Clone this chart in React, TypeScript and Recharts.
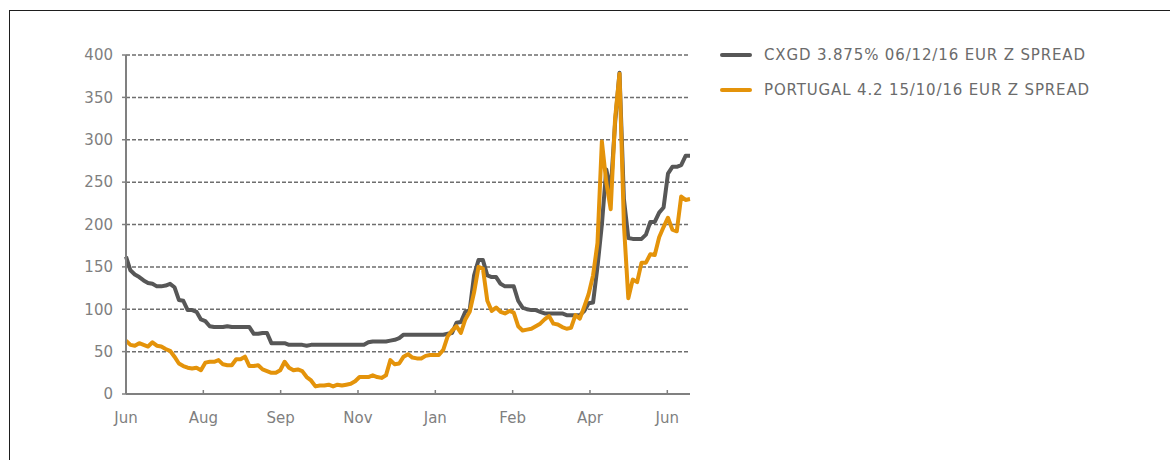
import { LineChart, Line, XAxis, YAxis, CartesianGrid, Legend } from "recharts";

// axis labels
const monthLabels = ["Jun", "Aug", "Sep", "Nov", "Jan", "Feb", "Apr", "Jun"];
const monthTicks = [0, 17.55, 35.1, 52.65, 70.2, 87.75, 105.3, 122.85];
const spreadTicks = [0, 50, 100, 150, 200, 250, 300, 350, 400];

const seriesNames = ["CXGD 3.875% 06/12/16 EUR Z SPREAD", "PORTUGAL 4.2 15/10/16 EUR Z SPREAD"];
const seriesColors = ["#575757", "#e4930a"];

// z-spread (bp), one reading every ~3.5 days
const cxgdSpread = [
  162, 146, 141, 138, 134, 131, 130, 127, 127, 128,
  130, 126, 111, 110, 99, 99, 97, 88, 86, 80,
  79, 79, 79, 80, 79, 79, 79, 79, 79, 71,
  71, 72, 72, 60, 60, 60, 60, 58, 58, 58,
  58, 57, 58, 58, 58, 58, 58, 58, 58, 58,
  58, 58, 58, 58, 58, 61, 62, 62, 62, 62,
  63, 64, 66, 70, 70, 70, 70, 70, 70, 70,
  70, 70, 70, 71, 72, 84, 85, 97, 99, 140,
  158, 158, 140, 138, 138, 130, 127, 127, 127, 110,
  102, 100, 99, 99, 97, 95, 95, 95, 95, 95,
  93, 93, 93, 93, 98, 107, 108, 150, 200, 265,
  240, 320, 379, 230, 184, 183, 183, 183, 188, 203,
  203, 214, 220, 260, 268, 268, 270, 281, 281,
];

const portugalSpread = [
  63, 58, 57, 60, 58, 56, 61, 57, 56, 53,
  51, 44, 36, 33, 31, 30, 31, 28, 37, 38,
  38, 40, 35, 34, 34, 41, 41, 44, 33, 33,
  34, 29, 27, 25, 25, 28, 38, 31, 28, 29,
  27, 20, 16, 9, 10, 10, 11, 9, 11, 10,
  11, 12, 15, 20, 20, 20, 22, 20, 19, 22,
  40, 35, 36, 44, 47, 43, 42, 42, 45, 46,
  46, 46, 52, 68, 75, 80, 72, 88, 97, 120,
  150, 148, 110, 98, 102, 97, 95, 98, 96, 80,
  75, 76, 77, 80, 83, 88, 92, 83, 82, 79,
  77, 78, 93, 89, 103, 118, 140, 178, 298, 250,
  218, 325, 378, 200, 113, 135, 132, 155, 155, 165,
  164, 185, 197, 208, 194, 192, 233, 229, 230,
];

const data = cxgdSpread.map((v, i) => ({ idx: i, cxgd: v, portugal: portugalSpread[i] }));

const fontFamily = "'DejaVu Sans', Verdana, sans-serif";

const renderLegend = () => (
  <div style={{ fontFamily, fontSize: 15, letterSpacing: 0.85, color: "#6b6b6b" }}>
    {seriesNames.map((name, i) => (
      <div key={name} style={{ display: "flex", alignItems: "center", height: 35 }}>
        <div
          style={{
            width: 32,
            height: 4,
            borderRadius: 2,
            background: seriesColors[i],
            marginRight: 12,
          }}
        />
        <span>{name}</span>
      </div>
    ))}
  </div>
);

export default function App() {
  return (
    <div style={{ position: "absolute", left: 0, top: 0, width: 1170, height: 460, background: "#fff" }}>
      <div
        style={{
          position: "absolute",
          left: 9,
          top: 10,
          width: 1161,
          height: 450,
          borderTop: "1px solid #1e1e1e",
          borderLeft: "1px solid #1e1e1e",
        }}
      />
      <div style={{ position: "absolute", left: 0, top: 0 }}>
        <LineChart
          width={1170}
          height={460}
          data={data}
          margin={{ top: 55, right: 480, bottom: 36, left: 60 }}
        >
          <CartesianGrid
            horizontal
            vertical={false}
            stroke="#6e6e6e"
            strokeWidth={1.5}
            strokeDasharray="4 2"
          />
          <XAxis
            dataKey="idx"
            type="number"
            domain={[0, 128]}
            ticks={monthTicks}
            tickFormatter={(_v: number, i: number) => monthLabels[i]}
            interval={0}
            height={30}
            axisLine={{ stroke: "#808080", strokeWidth: 2 }}
            tickLine={{ stroke: "#808080", strokeWidth: 1.5 }}
            tickSize={-4}
            tickMargin={22}
            tick={{ fill: "#7f7f7f", fontSize: 15, fontFamily }}
          />
          <YAxis
            type="number"
            domain={[0, 400]}
            ticks={spreadTicks}
            interval={0}
            width={66}
            axisLine={{ stroke: "#808080", strokeWidth: 2 }}
            tickLine={{ stroke: "#808080", strokeWidth: 1.5 }}
            tickSize={4}
            tickMargin={9}
            tick={{ fill: "#7f7f7f", fontSize: 15, fontFamily }}
          />
          <Legend
            layout="horizontal"
            verticalAlign="middle"
            align="center"
            wrapperStyle={{ left: 720, top: 37, width: 440 }}
            content={renderLegend}
          />
          <Line
            type="linear"
            dataKey="cxgd"
            name={seriesNames[0]}
            stroke={seriesColors[0]}
            strokeWidth={4}
            strokeLinejoin="round"
            dot={false}
            activeDot={false}
            isAnimationActive={false}
          />
          <Line
            type="linear"
            dataKey="portugal"
            name={seriesNames[1]}
            stroke={seriesColors[1]}
            strokeWidth={4}
            strokeLinejoin="round"
            dot={false}
            activeDot={false}
            isAnimationActive={false}
          />
        </LineChart>
      </div>
    </div>
  );
}
